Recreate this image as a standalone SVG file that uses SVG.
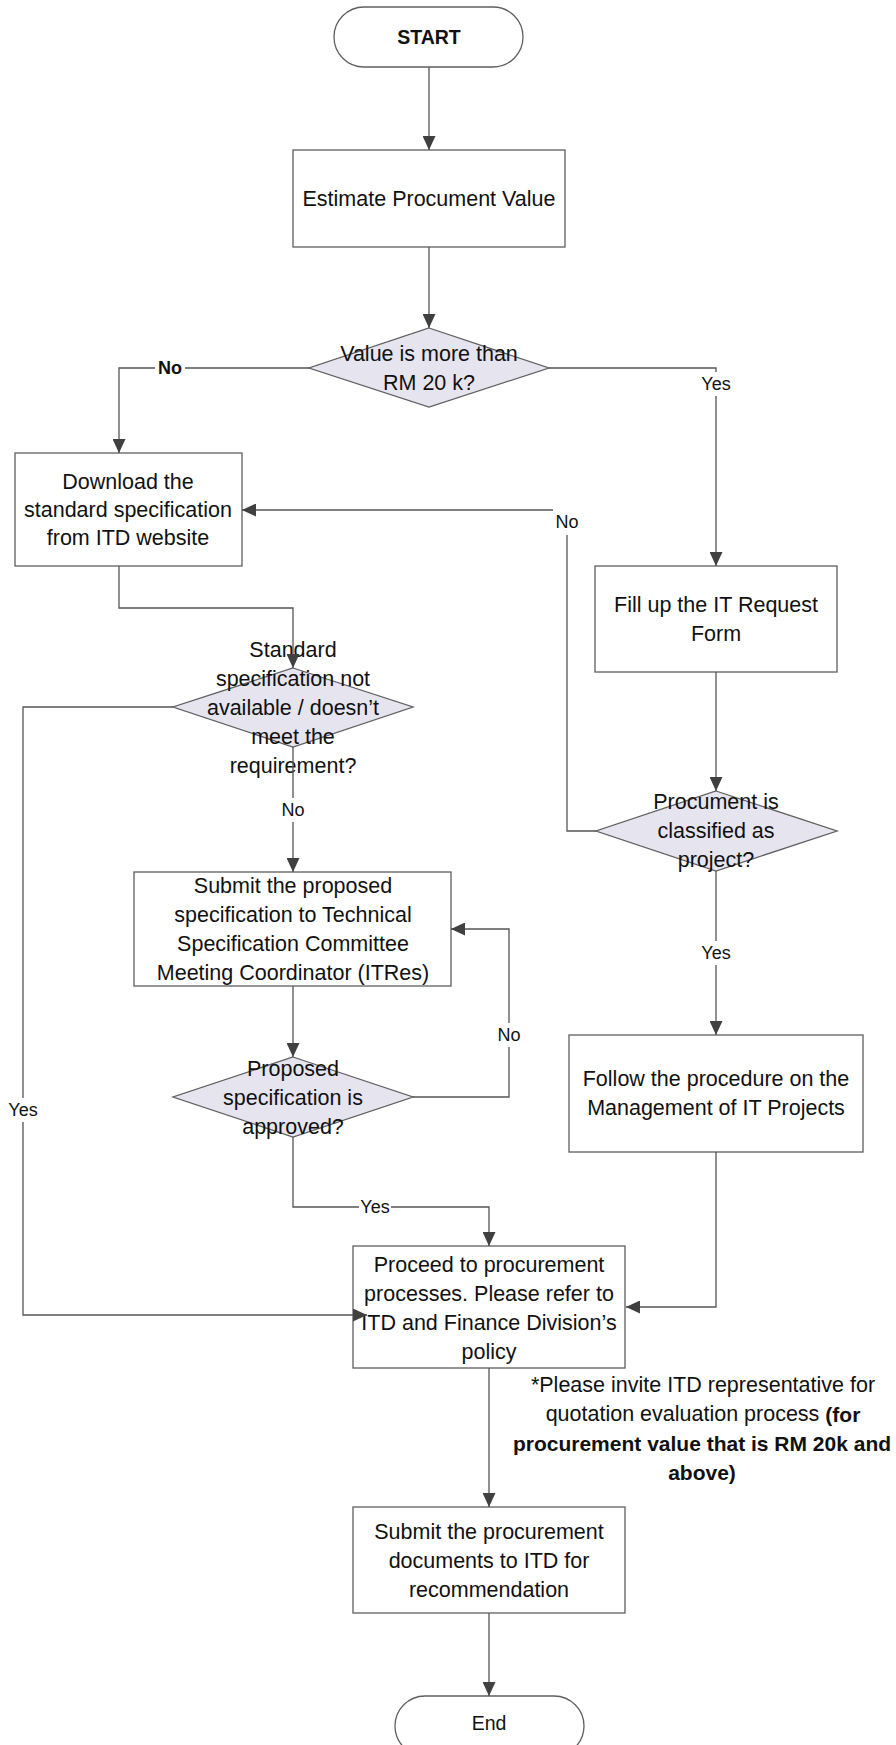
<svg xmlns="http://www.w3.org/2000/svg" width="896" height="1745" viewBox="0 0 896 1745">
<defs>
<style>
.box{fill:#ffffff;stroke:#5f5f5f;stroke-width:1.3}
.dec{fill:#e6e4ef;stroke:#5f5f5f;stroke-width:1.3}
.t{font-family:"Liberation Sans",Arial,sans-serif;font-size:21.5px;fill:#111;text-anchor:middle;dominant-baseline:central}
.lbl{font-family:"Liberation Sans",Arial,sans-serif;font-size:18px;fill:#111;text-anchor:middle;dominant-baseline:central}
.b{font-weight:bold}
.ln{fill:none;stroke:#555;stroke-width:1.3}
.lb{fill:#fff}
</style>
<marker id="ah" markerUnits="userSpaceOnUse" markerWidth="14" markerHeight="13" refX="14" refY="6.5" orient="auto">
<path d="M0,0 L14,6.5 L0,13 Z" fill="#404040"/>
</marker>
</defs>
<rect width="896" height="1745" fill="#ffffff"/>

<g id="start">
<rect class="box" x="334" y="7" width="189" height="60" rx="30" ry="30"/>
<text class="t b" x="429" y="37" style="font-size:19.5px">START</text>
</g>

<g id="estimate">
<rect class="box" x="293" y="150" width="272" height="97"/>
<text class="t" x="429" y="199">Estimate Procument Value</text>
</g>

<g id="decision-value">
<polygon class="dec" points="429,328 549,368 429,407 309,368"/>
<text class="t" x="429" y="354">Value is more than</text>
<text class="t" x="429" y="383">RM 20 k?</text>
</g>

<g id="download">
<rect class="box" x="15" y="453" width="227" height="113"/>
<text class="t" x="128" y="482">Download the</text>
<text class="t" x="128" y="510">standard specification</text>
<text class="t" x="128" y="538">from ITD website</text>
</g>

<g id="decision-standard">
<polygon class="dec" points="293,668 413,707 293,747 173,707"/>
<text class="t" x="293" y="650">Standard</text>
<text class="t" x="293" y="679">specification not</text>
<text class="t" x="293" y="708">available / doesn’t</text>
<text class="t" x="293" y="737">meet the</text>
<text class="t" x="293" y="766">requirement?</text>
</g>

<g id="submit-proposed">
<rect class="box" x="134" y="872" width="317" height="114"/>
<text class="t" x="293" y="886">Submit the proposed</text>
<text class="t" x="293" y="915">specification to Technical</text>
<text class="t" x="293" y="944">Specification Committee</text>
<text class="t" x="293" y="973">Meeting Coordinator (ITRes)</text>
</g>

<g id="decision-approved">
<polygon class="dec" points="293,1057 413,1097 293,1137 173,1097"/>
<text class="t" x="293" y="1069">Proposed</text>
<text class="t" x="293" y="1098">specification is</text>
<text class="t" x="293" y="1127">approved?</text>
</g>

<g id="fill-form">
<rect class="box" x="595" y="566" width="242" height="106"/>
<text class="t" x="716" y="605">Fill up the IT Request</text>
<text class="t" x="716" y="634">Form</text>
</g>

<g id="decision-project">
<polygon class="dec" points="716,791 837,831 716,871 596,831"/>
<text class="t" x="716" y="802">Procument is</text>
<text class="t" x="716" y="831">classified as</text>
<text class="t" x="716" y="860">project?</text>
</g>

<g id="follow">
<rect class="box" x="569" y="1035" width="294" height="117"/>
<text class="t" x="716" y="1079">Follow the procedure on the</text>
<text class="t" x="716" y="1108">Management of IT Projects</text>
</g>

<g id="proceed">
<rect class="box" x="353" y="1246" width="272" height="122"/>
<text class="t" x="489" y="1265">Proceed to procurement</text>
<text class="t" x="489" y="1294">processes. Please refer to</text>
<text class="t" x="489" y="1323">ITD and Finance Division’s</text>
<text class="t" x="489" y="1352">policy</text>
</g>

<g id="note">
<text class="t" x="703" y="1385">*Please invite ITD representative for</text>
<text class="t" x="703" y="1414">quotation evaluation process <tspan class="b" style="font-size:21px">(for</tspan></text>
<text class="t b" x="702" y="1443" style="font-size:21px">procurement value that is RM 20k and</text>
<text class="t b" x="702" y="1472" style="font-size:21px">above)</text>
</g>

<g id="submit-documents">
<rect class="box" x="353" y="1507" width="272" height="106"/>
<text class="t" x="489" y="1532">Submit the procurement</text>
<text class="t" x="489" y="1561">documents to ITD for</text>
<text class="t" x="489" y="1590">recommendation</text>
</g>

<g id="end">
<rect class="box" x="395" y="1696" width="189" height="60" rx="30" ry="30"/>
<text class="t" x="489" y="1723" style="font-size:19.5px">End</text>
</g>

<g id="connectors">
<path class="ln" d="M429,67 V150" marker-end="url(#ah)"/>
<path class="ln" d="M429,247 V328" marker-end="url(#ah)"/>
<path class="ln" d="M309,368 H119 V453" marker-end="url(#ah)"/>
<path class="ln" d="M549,368 H716 V566" marker-end="url(#ah)"/>
<path class="ln" d="M119,566 V608 H293 V668" marker-end="url(#ah)"/>
<path class="ln" d="M173,707 H23 V1315 H367" marker-end="url(#ah)"/>
<path class="ln" d="M293,747 V872" marker-end="url(#ah)"/>
<path class="ln" d="M293,986 V1057" marker-end="url(#ah)"/>
<path class="ln" d="M413,1097 H509 V929 H451" marker-end="url(#ah)"/>
<path class="ln" d="M293,1137 V1207 H489 V1246" marker-end="url(#ah)"/>
<path class="ln" d="M716,672 V791" marker-end="url(#ah)"/>
<path class="ln" d="M596,831 H567 V510 H242" marker-end="url(#ah)"/>
<path class="ln" d="M716,871 V1035" marker-end="url(#ah)"/>
<path class="ln" d="M716,1152 V1307 H626" marker-end="url(#ah)"/>
<path class="ln" d="M489,1368 V1507" marker-end="url(#ah)"/>
<path class="ln" d="M489,1613 V1696" marker-end="url(#ah)"/>

<rect class="lb" x="155" y="357" width="30" height="22"/>
<text class="lbl b" x="170" y="368">No</text>
<rect class="lb" x="700" y="372" width="32" height="24"/>
<text class="lbl" x="716" y="384">Yes</text>
<rect class="lb" x="7" y="1098" width="32" height="24"/>
<text class="lbl" x="23" y="1110">Yes</text>
<rect class="lb" x="279" y="798" width="28" height="24"/>
<text class="lbl" x="293" y="810">No</text>
<rect class="lb" x="495" y="1023" width="28" height="24"/>
<text class="lbl" x="509" y="1035">No</text>
<rect class="lb" x="359" y="1197" width="32" height="20"/>
<text class="lbl" x="375" y="1207">Yes</text>
<rect class="lb" x="553" y="504" width="28" height="31"/>
<text class="lbl" x="567" y="522">No</text>
<rect class="lb" x="700" y="941" width="32" height="24"/>
<text class="lbl" x="716" y="953">Yes</text>
</g>
</svg>
